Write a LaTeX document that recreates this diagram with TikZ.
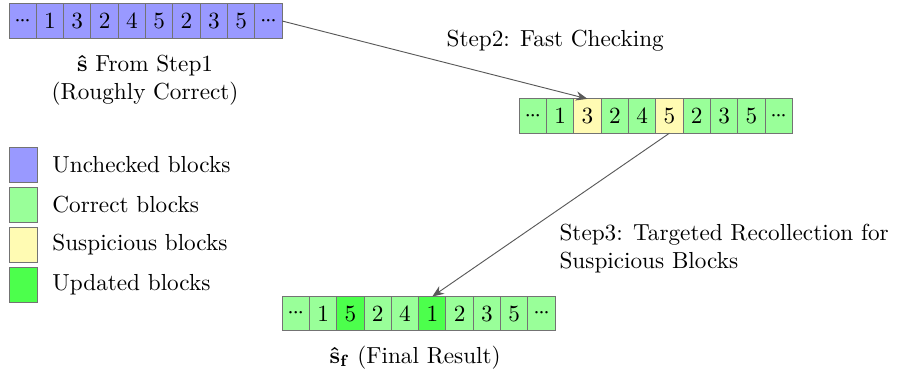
\documentclass[tikz,border=0pt]{standalone}
\usepackage{amsmath}
\usepackage{amssymb}
\usepackage{bm}
\usepackage{xcolor}
\usepackage{tikz}
\usetikzlibrary{arrows.meta, positioning, calc}

% tight dots for the open ends of a row
\newcommand{\celldots}{${\cdot}\kern-0.6pt{\cdot}\kern-0.6pt{\cdot}$}

\begin{document}
\begin{tikzpicture}[
  blk/.style={draw=black!55, minimum width=0.414cm, minimum height=0.52cm,
    inner sep=0pt, outer sep=0pt},
  unchk/.style={blk, fill=blue!40},
  corr/.style={blk, fill=green!40},
  susp/.style={blk, fill=yellow!30},
  updt/.style={blk, fill=green!70},
  flow/.style={black!65, -{Stealth[length=5pt, width=4pt]}}
]
  \useasboundingbox (0,0) rectangle (13.66,-5.636);

  % Step1 output: every block unchecked
  \foreach \i/\val in {0/\celldots, 1/1, 2/3, 3/2, 4/4, 5/5, 6/2, 7/3, 8/5, 9/\celldots}{
    \pgfmathsetmacro\cx{0.1364 + (\i+0.5)*0.4136}
    \node[unchk] (init\i) at (\cx,-0.318) {\val};
  }
  \node[align=center] (initlbl) at (2.197,-1.22)
    {$\boldsymbol{\hat{\mathbf{s}}}$ From Step1\\(Roughly Correct)};

  % Step2: fast checking marks suspicious blocks
  \foreach \i/\val/\sty in {0/\celldots/corr, 1/1/corr, 2/3/susp, 3/2/corr, 4/4/corr,
    5/5/susp, 6/2/corr, 7/3/corr, 8/5/corr, 9/\celldots/corr}{
    \pgfmathsetmacro\cx{7.863 + (\i+0.5)*0.4136}
    \node[\sty] (chk\i) at (\cx,-1.757) {\val};
  }
  \node (step2) at (8.408,-0.62) {Step2: Fast Checking};

  % Step3: final result after recollection
  \foreach \i/\val/\sty in {0/\celldots/corr, 1/1/corr, 2/5/updt, 3/2/corr, 4/4/corr,
    5/1/updt, 6/2/corr, 7/3/corr, 8/5/corr, 9/\celldots/corr}{
    \pgfmathsetmacro\cx{4.272 + (\i+0.5)*0.4136}
    \node[\sty] (fin\i) at (\cx,-4.750) {\val};
  }
  \node[anchor=west, align=left] (step3) at (8.35,-3.77)
    {Step3: Targeted Recollection for\\Suspicious Blocks};
  \node (finlbl) at (6.287,-5.41)
    {$\boldsymbol{\hat{\mathbf{s}}_{\mathbf{f}}}$ (Final Result)};

  % Arrows
  \draw[flow] (init9.east) -- (chk2.north);
  \draw[flow] (chk5.south) -- (fin5.north);

  % Legend
  \foreach \j/\sty/\txt in {0/unchk/Unchecked blocks, 1/corr/Correct blocks,
    2/susp/Suspicious blocks, 3/updt/Updated blocks}{
    \pgfmathsetmacro\ly{-2.492 - \j*0.609}
    \node[\sty, minimum width=0.424cm, minimum height=0.53cm] (key\j) at (0.348,\ly) {};
    \node[right=0.11cm of key\j] (keytxt\j) {\txt};
  }
\end{tikzpicture}
\end{document}
